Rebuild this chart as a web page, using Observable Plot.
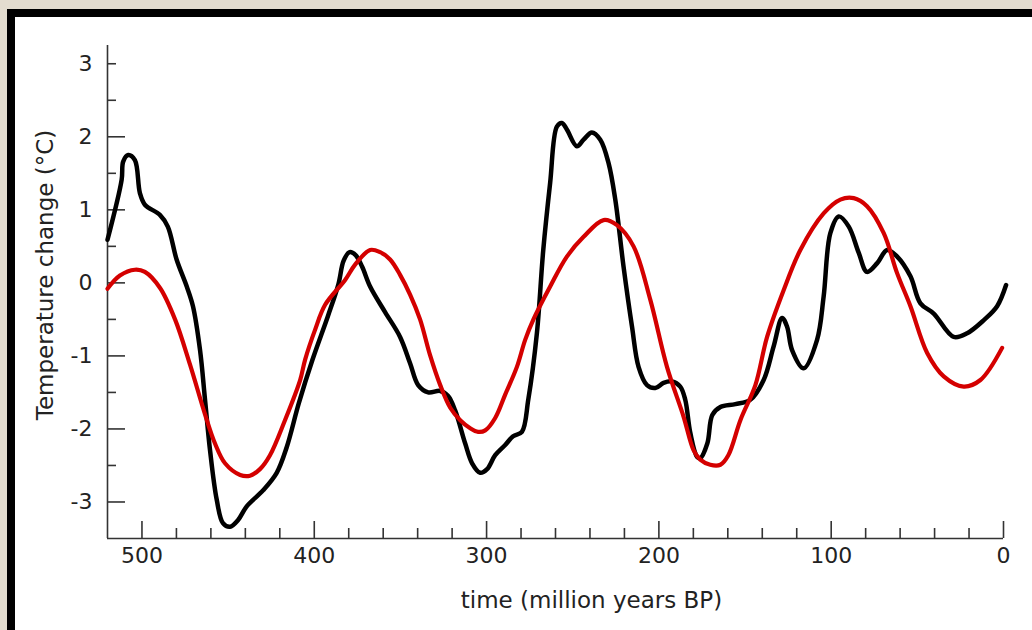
<!DOCTYPE html>
<html><head><meta charset="utf-8">
<script src="https://cdn.jsdelivr.net/npm/d3@7"></script>
<script src="https://cdn.jsdelivr.net/npm/@observablehq/plot@0.6"></script>
<style>
html,body{margin:0;padding:0;width:1032px;height:630px;overflow:hidden;background:#e3dccf;}
#frame{position:absolute;left:7px;top:9px;width:1040px;height:640px;border:8px solid #000;background:#fff;}
#chart{position:absolute;left:0;top:0;}
</style></head><body><div id="frame"></div><div id="chart"></div>
<script>
// Black series (million years BP, temperature change °C)
const blackTime = [520, 511.8, 510.9, 508, 504.1, 501.2, 498.3, 489.6, 485, 479.9, 474, 470.4, 466.3, 463.4, 460.5, 456.6, 453, 448.9, 444.3, 439.2, 429.7, 421.8, 416, 409, 401, 392, 386, 383, 379.5, 376, 372.2, 367.6, 358.9, 350.2, 344.4, 339.7, 333.9, 326.9, 322.3, 318.2, 312.4, 308.4, 303.7, 299.7, 295, 289.2, 284.6, 279.5, 275.8, 270.8, 267.1, 263.1, 259.2, 256.3, 253.4, 247.6, 243.7, 238.9, 234, 229.2, 225.3, 220.5, 215.6, 211.8, 206.9, 202.1, 197.3, 192.4, 187.6, 184.7, 181.8, 177.9, 176, 171.9, 169, 164.3, 155.6, 146.9, 139.2, 133.4, 128.5, 125.6, 122.7, 116, 108.2, 104.4, 100.5, 95.6, 89.8, 84, 79.2, 73.3, 67.5, 61.7, 54, 48.2, 40.5, 28.9, 21.1, 11.4, 3.7, -1.5];
const blackTemp = [0.59, 1.41, 1.66, 1.75, 1.68, 1.23, 1.07, 0.93, 0.77, 0.32, -0.05, -0.32, -0.92, -1.6, -2.29, -2.97, -3.29, -3.34, -3.25, -3.06, -2.84, -2.6, -2.25, -1.65, -1.05, -0.45, -0.02, 0.3, 0.42, 0.38, 0.22, -0.05, -0.4, -0.74, -1.1, -1.4, -1.5, -1.48, -1.55, -1.75, -2.2, -2.47, -2.6, -2.55, -2.36, -2.22, -2.1, -2.04, -1.6, -0.69, 0.45, 1.37, 2.14, 2.19, 2.1, 1.87, 1.96, 2.06, 1.96, 1.64, 1.14, 0.22, -0.6, -1.15, -1.4, -1.44, -1.37, -1.35, -1.42, -1.6, -2.05, -2.38, -2.4, -2.2, -1.81, -1.7, -1.66, -1.6, -1.33, -0.87, -0.48, -0.6, -0.92, -1.17, -0.78, -0.19, 0.68, 0.91, 0.77, 0.41, 0.15, 0.27, 0.45, 0.36, 0.09, -0.28, -0.42, -0.74, -0.69, -0.51, -0.32, -0.03];

// Red series
const redTime = [520, 512.8, 504.1, 498.3, 489.5, 480.8, 472.1, 463.4, 457.6, 451.8, 443, 437.3, 431.5, 425.7, 417, 408.2, 405.3, 399.5, 393.7, 382.1, 376.3, 367.6, 361.8, 356, 350.2, 344.4, 338.6, 332.8, 326.9, 321.1, 315.3, 309.5, 304.9, 300.8, 295, 289.2, 282.4, 277.6, 272.8, 263.1, 253.4, 243.7, 232.1, 224.3, 214.7, 205, 195.3, 185.7, 179.9, 176, 170.2, 164.3, 159.7, 152.7, 144, 137.2, 127.6, 117.9, 104.4, 94.7, 86.9, 79.2, 69.5, 61.7, 54, 44.3, 34.7, 23.1, 13.4, 0.8];
const redTemp = [-0.08, 0.1, 0.18, 0.15, -0.07, -0.5, -1.12, -1.8, -2.2, -2.47, -2.63, -2.64, -2.55, -2.36, -1.88, -1.33, -1.05, -0.64, -0.3, 0.04, 0.25, 0.45, 0.42, 0.32, 0.11, -0.16, -0.5, -0.99, -1.4, -1.71, -1.88, -1.99, -2.04, -2.02, -1.85, -1.53, -1.15, -0.78, -0.5, -0.05, 0.36, 0.63, 0.86, 0.79, 0.5, -0.23, -1.15, -1.83, -2.29, -2.42, -2.49, -2.49, -2.36, -1.88, -1.4, -0.74, -0.1, 0.45, 0.95, 1.14, 1.16, 1.05, 0.68, 0.13, -0.32, -0.96, -1.28, -1.42, -1.33, -0.89];

// Axis ticks and labels
const xMajorTicks = [500, 400, 300, 200, 100, 0];
const xMinorTicks = [480, 460, 440, 420, 380, 360, 340, 320, 280, 260, 240, 220, 180, 160, 140, 120, 80, 60, 40, 20];
const yMajorTicks = [-3, -2, -1, 0, 1, 2];
const yMinorTicks = [-2.5, -1.5, -0.5, 0.5, 1.5, 2.5, 3];
const yTickLabels = [-3, -2, -1, 0, 1, 2, 3];
const xTitle = "time (million years BP)";
const yTitle = "Temperature change (°C)";

const black = blackTime.map((t, i) => ({t, v: blackTemp[i]}));
const red = redTime.map((t, i) => ({t, v: redTemp[i]}));

const axisColor = "#333";
const font = "DejaVu Sans, sans-serif";
const fmt = d => String(d);

const chart = Plot.plot({
  width: 1032,
  height: 630,
  marginLeft: 107,
  marginRight: 29,
  marginTop: 45,
  marginBottom: 92,
  style: {background: "transparent", fontFamily: font, fontSize: "22px", color: "#222"},
  x: {domain: [520, 0], axis: null},
  y: {domain: [-3.5, 3.25], axis: null},
  marks: [
    Plot.ruleY([-3.5], {stroke: axisColor, strokeWidth: 1.6}),
    Plot.ruleX([520], {stroke: axisColor, strokeWidth: 1.6}),
    Plot.axisX(xMajorTicks, {tickSize: -17, text: null, label: null, stroke: axisColor, strokeWidth: 1.6}),
    Plot.axisX(xMinorTicks, {tickSize: -10, text: null, label: null, stroke: axisColor, strokeWidth: 1.6}),
    Plot.axisX(xMajorTicks, {tickSize: 0, tickPadding: 9, fontSize: 22, fill: "#222", label: null, tickFormat: fmt}),
    Plot.axisY(yMajorTicks, {tickSize: -18, text: null, label: null, stroke: axisColor, strokeWidth: 1.6}),
    Plot.axisY(yMinorTicks, {tickSize: -9, text: null, label: null, stroke: axisColor, strokeWidth: 1.6}),
    Plot.axisY(yTickLabels, {tickSize: 0, tickPadding: 15, fontSize: 22, fill: "#222", label: null, tickFormat: fmt}),
    Plot.line(black, {x: "t", y: "v", stroke: "#000", strokeWidth: 4.5, curve: "catmull-rom"}),
    Plot.line(red, {x: "t", y: "v", stroke: "#d40000", strokeWidth: 4.2, curve: "catmull-rom"}),
    Plot.text([xTitle], {frameAnchor: "bottom", dx: 36, dy: 69, fontSize: 23, fill: "#222", lineAnchor: "bottom"}),
    Plot.text([yTitle], {frameAnchor: "left", textAnchor: "middle", dx: -55, dy: -17, rotate: -90, fontSize: 23, fill: "#222", lineAnchor: "bottom"})
  ]
});
document.getElementById("chart").appendChild(chart);
</script></body></html>
